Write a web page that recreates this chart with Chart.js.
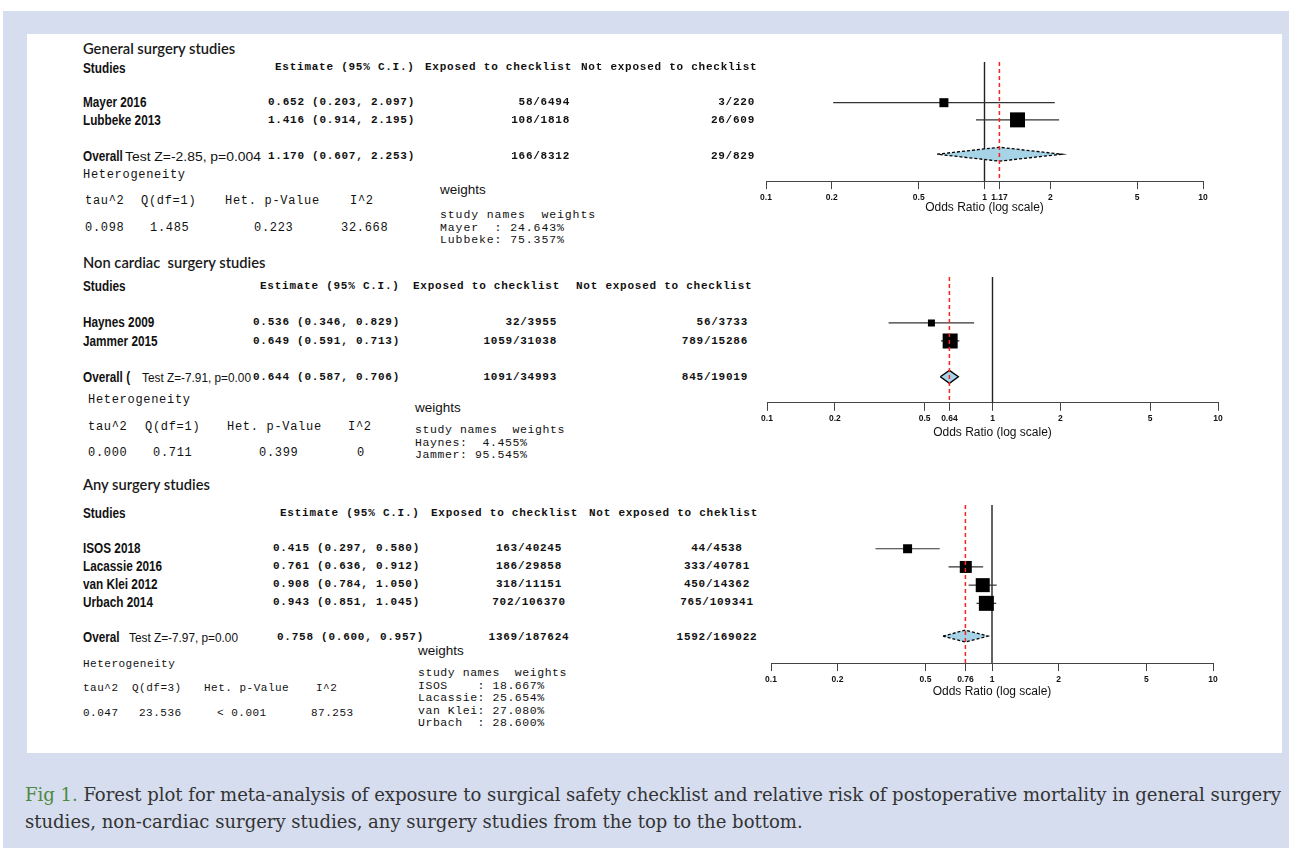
<!DOCTYPE html>
<html>
<head>
<meta charset="utf-8">
<script src="https://cdn.jsdelivr.net/npm/chart.js@4.4.1/dist/chart.umd.min.js"></script>
<style>
  html, body { margin: 0; padding: 0; }
  body { width: 1289px; height: 848px; position: relative; background: #fff; overflow: hidden; }
  #bg { position: absolute; left: 3px; top: 11px; right: 0; bottom: 0; background: #d5ddef; }
  #panel { position: absolute; left: 27px; top: 34px; width: 1255px; height: 719px; background: #fff; }
  canvas { position: absolute; }
  .t { position: absolute; white-space: pre; line-height: 1; color: #111; transform: translateY(-50%); transform-origin: 0 50%; }
  .ttl { font-family: Lato, 'Open Sans', sans-serif; font-weight: 600; font-size: 14.7px; color: #1a1a1a; }
  .nm  { font-family: 'Liberation Sans', Arial, sans-serif; font-weight: 700; font-size: 14px; transform: translateY(-50%) scaleX(0.84); }
  .tst { font-family: 'Liberation Sans', Arial, sans-serif; font-size: 13px; }
  .m   { font-family: 'Liberation Mono', monospace; font-weight: 700; font-size: 11px; letter-spacing: 0.75px; }
  .het { font-family: 'Liberation Mono', monospace; font-size: 12px; letter-spacing: 0.7px; }
  .het3{ font-family: 'Liberation Mono', monospace; font-size: 11px; letter-spacing: 0.5px; }
  .wl  { font-family: 'Liberation Sans', Arial, sans-serif; font-size: 13.5px; }
  .wb  { font-family: 'Liberation Mono', monospace; font-size: 11.5px; line-height: 12.5px; transform: none; }
  .cap { font-family: 'DejaVu Serif Condensed', 'Liberation Serif', serif; font-size: 18px; color: #333; }
  .cap b { color: #4d8a3d; font-weight: normal; }
</style>
</head>
<body>
<div id="bg"></div>
<div id="panel"></div>
<canvas id="fp1"></canvas>
<canvas id="fp2"></canvas>
<canvas id="fp3"></canvas>
<script>
(function () {
  'use strict';

  // ── Data ────────────────────────────────────────────────
  var GEN_STUDIES = ['Mayer 2016', 'Lubbeke 2013'];
  var GEN_OR      = [0.652, 1.416];
  var GEN_LO      = [0.203, 0.914];
  var GEN_HI      = [2.097, 2.195];
  var GEN_EXPOSED = ['58/6494', '108/1818'];
  var GEN_CONTROL = ['3/220', '26/609'];
  var GEN_WEIGHTS = [24.643, 75.357];
  var GEN_OVERALL = [1.170, 0.607, 2.253];
  var GEN_TOTALS  = ['166/8312', '29/829'];
  var GEN_TEST    = 'Test Z=-2.85, p=0.004';
  var GEN_HET     = ['0.098', '1.485', '0.223', '32.668'];

  var NC_STUDIES = ['Haynes 2009', 'Jammer 2015'];
  var NC_OR      = [0.536, 0.649];
  var NC_LO      = [0.346, 0.591];
  var NC_HI      = [0.829, 0.713];
  var NC_EXPOSED = ['32/3955', '1059/31038'];
  var NC_CONTROL = ['56/3733', '789/15286'];
  var NC_WEIGHTS = [4.455, 95.545];
  var NC_OVERALL = [0.644, 0.587, 0.706];
  var NC_TOTALS  = ['1091/34993', '845/19019'];
  var NC_TEST    = 'Test Z=-7.91, p=0.00';
  var NC_HET     = ['0.000', '0.711', '0.399', '0'];

  var ANY_STUDIES = ['ISOS 2018', 'Lacassie 2016', 'van Klei 2012', 'Urbach 2014'];
  var ANY_OR      = [0.415, 0.761, 0.908, 0.943];
  var ANY_LO      = [0.297, 0.636, 0.784, 0.851];
  var ANY_HI      = [0.580, 0.912, 1.050, 1.045];
  var ANY_EXPOSED = ['163/40245', '186/29858', '318/11151', '702/106370'];
  var ANY_CONTROL = ['44/4538', '333/40781', '450/14362', '765/109341'];
  var ANY_WEIGHTS = [18.667, 25.654, 27.080, 28.600];
  var ANY_OVERALL = [0.758, 0.600, 0.957];
  var ANY_TOTALS  = ['1369/187624', '1592/169022'];
  var ANY_TEST    = 'Test Z=-7.97, p=0.00';
  var ANY_HET     = ['0.047', '23.536', '< 0.001', '87.253'];

  var OR_TICKS = [0.1, 0.2, 0.5, 1, 2, 5, 10];
  var HDR_A = ['Estimate (95% C.I.)', 'Exposed to checklist', 'Not exposed to checklist'];
  var HDR_B = ['Estimate (95% C.I.)', 'Exposed to checklist', 'Not exposed to cheklist'];

  // ── Sections (data + layout) ────────────────────────────
  var SECTIONS = [
    {
      title: 'General surgery studies', overallLabel: 'Overall', df: 1, hdr: HDR_A,
      studies: GEN_STUDIES, or: GEN_OR, lo: GEN_LO, hi: GEN_HI, exposed: GEN_EXPOSED, control: GEN_CONTROL,
      weights: GEN_WEIGHTS, overall: GEN_OVERALL, totals: GEN_TOTALS, test: GEN_TEST, het: GEN_HET,
      L: {
        titleY: 48, studiesY: 68, hdrY: 67, hdrX: [275, 425, 581],
        rowY: [102, 120], overallY: 156, estX: 268, expX: 570, ctlX: 755, align: 'right',
        testX: 125, testW: 136, hetCls: 'het', hetX: 83, hetY: 175,
        tauY: 201, tauX: [85, 141, 225, 350], valY: 228, valX: [85, 150, 254, 341],
        wLabel: [440, 190], wX: 440, wY: 209, wLs: 0.9
      },
      P: { canvas: 'fp1', left: 766, right: 1203, top: 62, axis: 182, titleDy: 26.7,
           row1: 103, step: 17.3, gap: 2, boxes: [9, 15], diamondH: 14, dash: [3, 2] }
    },
    {
      title: 'Non cardiac  surgery studies', overallLabel: 'Overall (', df: 1, hdr: HDR_A,
      studies: NC_STUDIES, or: NC_OR, lo: NC_LO, hi: NC_HI, exposed: NC_EXPOSED, control: NC_CONTROL,
      weights: NC_WEIGHTS, overall: NC_OVERALL, totals: NC_TOTALS, test: NC_TEST, het: NC_HET,
      L: {
        titleY: 262, studiesY: 286, hdrY: 286, hdrX: [260, 413, 576],
        rowY: [322, 341], overallY: 377, estX: 253, expX: 557, ctlX: 748, align: 'right',
        testX: 142, testW: 109, hetCls: 'het', hetX: 88, hetY: 400,
        tauY: 427, tauX: [88, 145, 227, 348], valY: 453, valX: [88, 153, 259, 357],
        wLabel: [415, 408], wX: 415, wY: 424, wLs: 0.6
      },
      P: { canvas: 'fp2', left: 767, right: 1218, top: 277, axis: 403, titleDy: 30,
           row1: 323, step: 18, gap: 2, boxes: [7, 15], diamondH: 13, dash: null }
    },
    {
      title: 'Any surgery studies', overallLabel: 'Overal', df: 3, hdr: HDR_B,
      studies: ANY_STUDIES, or: ANY_OR, lo: ANY_LO, hi: ANY_HI, exposed: ANY_EXPOSED, control: ANY_CONTROL,
      weights: ANY_WEIGHTS, overall: ANY_OVERALL, totals: ANY_TOTALS, test: ANY_TEST, het: ANY_HET,
      L: {
        titleY: 484, studiesY: 513, hdrY: 513, hdrX: [280, 431, 589],
        rowY: [548, 566, 584, 602], overallY: 637, estX: 273, expX: 529, ctlX: 717, align: 'center',
        testX: 129, testW: 109, hetCls: 'het3', hetX: 83, hetY: 664,
        tauY: 688, tauX: [83, 132, 204, 316], valY: 713, valX: [83, 139, 217, 311],
        wLabel: [418, 651], wX: 418, wY: 667, wLs: 0.55
      },
      P: { canvas: 'fp3', left: 771, right: 1213, top: 505, axis: 664, titleDy: 28.7,
           row1: 549, step: 18.3, gap: 1.8, boxes: [9, 12, 14, 15], diamondH: 12, dash: [3, 2] }
    }
  ];

  // ── Text helpers ────────────────────────────────────────
  var W = 1289;
  function put(text, x, y, cls, align) {
    var d = document.createElement('div');
    d.className = 't ' + cls;
    d.textContent = text;
    d.style.top = y + 'px';
    if (align === 'right') {
      d.style.right = (W - x) + 'px';
    } else if (align === 'center') {
      d.style.left = x + 'px';
      d.style.transform = 'translate(-50%, -50%)';
    } else {
      d.style.left = x + 'px';
    }
    document.body.appendChild(d);
    return d;
  }

  // squeeze a left-aligned label to a given width
  function fitTo(el, width) {
    var w = el.getBoundingClientRect().width;
    el.style.transform = 'translateY(-50%) scaleX(' + (width / w) + ')';
  }

  function f3(v) { return v.toFixed(3); }
  function estText(or, lo, hi) { return f3(or) + ' (' + f3(lo) + ', ' + f3(hi) + ')'; }
  function shortName(s) { return s.replace(/\s+\d{4}$/, ''); }
  function padEnd(s, n) { while (s.length < n) s += ' '; return s; }
  function padStart(s, n) { while (s.length < n) s = ' ' + s; return s; }

  function renderTable(s) {
    var L = s.L;
    put(s.title, 83, L.titleY, 'ttl');
    put('Studies', 83, L.studiesY, 'nm');
    s.hdr.forEach(function (h, i) { put(h, L.hdrX[i], L.hdrY, 'm'); });

    s.studies.forEach(function (name, i) {
      var y = L.rowY[i];
      put(name, 83, y, 'nm');
      put(estText(s.or[i], s.lo[i], s.hi[i]), L.estX, y, 'm');
      put(s.exposed[i], L.expX, y, 'm', L.align);
      put(s.control[i], L.ctlX, y, 'm', L.align);
    });

    put(s.overallLabel, 83, L.overallY, 'nm');
    fitTo(put(s.test, L.testX, L.overallY, 'tst'), L.testW);
    put(estText(s.overall[0], s.overall[1], s.overall[2]), L.estX + (L.align === 'center' ? 4 : 0), L.overallY, 'm');
    put(s.totals[0], L.expX, L.overallY, 'm', L.align);
    put(s.totals[1], L.ctlX, L.overallY, 'm', L.align);

    put('Heterogeneity', L.hetX, L.hetY, L.hetCls);
    ['tau^2', 'Q(df=' + s.df + ')', 'Het. p-Value', 'I^2'].forEach(function (h, i) {
      put(h, L.tauX[i], L.tauY, L.hetCls);
    });
    s.het.forEach(function (v, i) { put(v, L.valX[i], L.valY, L.hetCls); });

    put('weights', L.wLabel[0], L.wLabel[1], 'wl');
    var names = s.studies.map(shortName);
    var len = Math.max.apply(null, names.map(function (n) { return n.length; }));
    var lines = ['study names  weights'].concat(names.map(function (n, i) {
      return padEnd(n, len) + ': ' + padStart(s.weights[i].toFixed(3), 6) + '%';
    }));
    put(lines.join('\n'), L.wX, L.wY, 'wb').style.letterSpacing = L.wLs + 'px';
  }

  // ── Forest plots ────────────────────────────────────────
  var PAD = 12, PAD_TOP = 2;

  function tickLabel(v, est) {
    if (v === est) return String(Number(est.toFixed(2)));
    return String(v);
  }

  function drawForest(s) {
    var P = s.P;
    var scaleH = P.titleDy + 7.2;
    var canvas = document.getElementById(P.canvas);
    canvas.width  = P.right - P.left + 2 * PAD;
    canvas.height = P.axis - P.top + PAD_TOP + scaleH;
    canvas.style.left = (P.left - PAD) + 'px';
    canvas.style.top  = (P.top - PAD_TOP) + 'px';

    var yMin = 1 + (P.top - P.row1) / P.step;
    var yMax = 1 + (P.axis - P.row1) / P.step;
    var n = s.or.length;
    var oRow = n + P.gap;
    var est = s.overall[0];
    var halfH = (P.diamondH / 2) / P.step;
    var ticks = OR_TICKS.concat([est]).sort(function (a, b) { return a - b; });

    var datasets = [];

    // summary line (red dashed)
    datasets.push({
      type: 'line', data: [{ x: est, y: yMin }, { x: est, y: yMax }],
      borderColor: '#ff2020', borderWidth: 1.5, borderDash: [4, 3], pointRadius: 0
    });

    // study boxes
    datasets.push({
      type: 'scatter',
      data: s.or.map(function (v, i) { return { x: v, y: i + 1 }; }),
      pointStyle: 'rect',
      pointRadius: P.boxes.map(function (b) { return b / Math.SQRT2; }),
      backgroundColor: '#000', borderColor: '#000', borderWidth: 0
    });

    // overall diamond
    datasets.push({
      type: 'line',
      data: [
        { x: s.overall[1], y: oRow }, { x: est, y: oRow - halfH },
        { x: s.overall[2], y: oRow }, { x: est, y: oRow + halfH },
        { x: s.overall[1], y: oRow }
      ],
      borderColor: '#000', borderWidth: 1.3, borderDash: P.dash || [],
      backgroundColor: '#a6d3e6', fill: 'shape', pointRadius: 0, tension: 0
    });

    // confidence intervals
    s.or.forEach(function (v, i) {
      datasets.push({
        type: 'line', data: [{ x: s.lo[i], y: i + 1 }, { x: s.hi[i], y: i + 1 }],
        borderColor: '#333', borderWidth: 1.2, pointRadius: 0
      });
    });

    // line of no effect
    datasets.push({
      type: 'line', data: [{ x: 1, y: yMin }, { x: 1, y: yMax }],
      borderColor: '#222', borderWidth: 1.4, pointRadius: 0
    });

    new Chart(canvas, {
      type: 'scatter',
      data: { datasets: datasets },
      options: {
        responsive: false,
        animation: false,
        events: [],
        layout: { autoPadding: false, padding: { left: PAD, right: PAD, top: PAD_TOP, bottom: 0 } },
        plugins: { legend: { display: false }, tooltip: { enabled: false } },
        scales: {
          x: {
            type: 'logarithmic', position: 'bottom', min: 0.1, max: 10,
            afterBuildTicks: function (sc) { sc.ticks = ticks.map(function (v) { return { value: v }; }); },
            afterFit: function (sc) { sc.height = scaleH; },
            grid: { drawOnChartArea: false, drawTicks: true, tickLength: 8, color: '#444', tickColor: '#444', lineWidth: 1 },
            border: { display: true, color: '#444', width: 1 },
            ticks: {
              autoSkip: false, maxRotation: 0, minRotation: 0, padding: 3, color: '#111',
              font: { family: 'Liberation Sans, Arial, sans-serif', size: 8.5, weight: 'bold' },
              callback: function (v) { return tickLabel(v, est); }
            },
            title: {
              display: true, text: 'Odds Ratio (log scale)', color: '#111', padding: 0,
              font: { family: 'Liberation Sans, Arial, sans-serif', size: 12 }
            }
          },
          y: { type: 'linear', display: false, reverse: true, min: yMin, max: yMax, ticks: { display: false } }
        }
      }
    });
  }

  // ── Caption ─────────────────────────────────────────────
  function renderCaption() {
    var l1 = put('', 25, 795, 'cap');
    l1.innerHTML = '<b>Fig 1.</b> Forest plot for meta-analysis of exposure to surgical safety checklist and relative risk of postoperative mortality in general surgery';
    var l2 = put('studies, non-cardiac surgery studies, any surgery studies from the top to the bottom.', 25, 822, 'cap');
    var k = 1256 / l1.getBoundingClientRect().width;
    l1.style.transform = 'translateY(-50%) scaleX(' + k + ')';
    l2.style.transform = 'translateY(-50%) scaleX(' + k + ')';
  }

  SECTIONS.forEach(function (s) {
    renderTable(s);
    drawForest(s);
  });
  renderCaption();
}());
</script>
</body>
</html>
